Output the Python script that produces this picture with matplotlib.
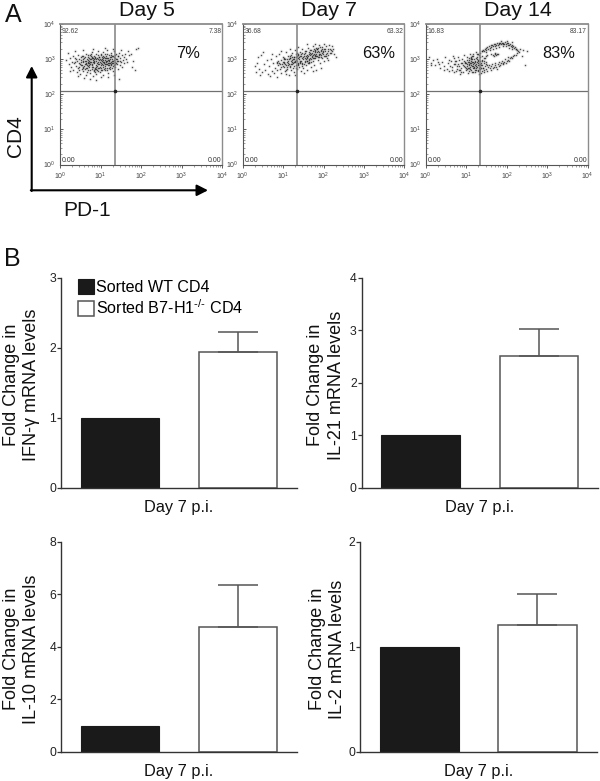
import matplotlib
matplotlib.use("Agg")
import matplotlib.pyplot as plt
import numpy as np
from matplotlib.ticker import LogLocator, NullFormatter

plt.rcParams["font.family"] = ["Liberation Sans", "DejaVu Sans"]
plt.rcParams["mathtext.default"] = "regular"

W, H = 600, 781

# flow panels, log10 PD-1 / log10 CD4
day_labels = ["Day 5", "Day 7", "Day 14"]
pct_labels = ["7%", "63%", "83%"]
upper_left = ["92.62", "36.68", "16.83"]
upper_right = ["7.38", "63.32", "83.17"]
gate_x = [1.35, 1.34, 1.33]
gate_y = 2.09

day5_points = [
    (0.16,2.97),(0.19,3.18),(0.22,2.86),(0.25,3.02),(0.27,2.78),(0.29,2.93),(0.31,3.10),(0.33,2.70),
    (0.35,2.88),(0.37,3.04),(0.39,2.81),(0.41,2.95),(0.42,2.64),(0.44,3.12),(0.45,2.75),(0.47,2.90),
    (0.48,3.01),(0.50,2.58),(0.51,2.84),(0.52,2.97),(0.54,2.71),(0.55,3.08),(0.56,2.91),(0.57,2.79),
    (0.58,2.66),(0.60,3.03),(0.61,2.87),(0.62,2.94),(0.63,3.16),(0.64,2.74),(0.65,2.55),(0.66,2.99),
    (0.67,2.83),(0.68,2.90),(0.69,3.06),(0.70,2.69),(0.71,2.96),(0.72,2.78),(0.73,3.12),(0.74,2.86),
    (0.75,2.61),(0.76,3.00),(0.77,2.92),(0.78,2.73),(0.79,3.19),(0.80,2.84),(0.81,2.52),(0.82,2.97),
    (0.83,2.66),(0.84,3.08),(0.85,2.89),(0.86,2.76),(0.87,3.02),(0.88,2.94),(0.89,2.58),(0.90,3.14),
    (0.91,2.81),(0.92,2.69),(0.93,2.99),(0.94,3.24),(0.95,2.87),(0.96,2.74),(0.97,3.05),(0.98,2.63),
    (0.99,2.92),(1.00,3.11),(1.01,2.83),(1.02,2.70),(1.03,3.01),(1.04,2.95),(1.05,3.20),(1.06,2.78),
    (1.07,2.55),(1.08,2.88),(1.09,3.07),(1.10,2.98),(1.11,2.68),(1.12,3.16),(1.13,2.85),(1.14,2.93),
    (1.15,2.75),(1.16,3.04),(1.17,3.25),(1.18,2.90),(1.19,2.61),(1.20,2.98),(1.21,3.12),(1.22,2.82),
    (1.23,2.71),(1.24,3.06),(1.25,2.93),(1.26,3.18),(1.27,2.87),(1.28,2.76),(1.29,3.01),(1.30,2.65),
    (1.31,2.95),(1.32,3.10),(1.33,2.84),(1.34,3.22),(1.35,2.92),(1.36,2.78),(1.37,3.04),(1.38,2.99),
    (1.39,3.14),(1.40,2.87),(1.42,2.72),(1.43,3.08),(1.44,2.95),(1.46,3.17),(1.47,2.83),(1.49,3.02),
    (1.50,2.91),(1.52,3.12),(1.53,2.79),(1.55,2.97),(1.57,3.06),(1.59,2.89),(1.61,3.15),(1.63,3.00),
    (1.66,2.93),(1.70,3.11),(1.75,3.15),(1.80,2.95),(1.85,2.68),(1.88,3.30),(1.92,3.31),(1.45,2.42),
    (0.55,2.82),(0.62,2.73),(0.70,2.92),(0.74,2.99),(0.78,2.85),(0.82,2.79),(0.85,2.96),(0.88,2.71),
    (0.92,2.88),(0.96,2.98),(1.00,2.76),(1.03,2.86),(1.07,2.97),(1.10,2.80),(1.13,3.04),(1.17,2.86),
    (1.20,2.90),(1.24,2.79),(1.28,2.95),(1.32,2.88),(0.48,2.77),(0.58,3.10),(0.66,2.62),(0.72,3.04),
    (0.80,3.07),(0.86,2.64),(0.94,2.66),(1.02,3.15),(1.08,2.73),(1.16,2.68),(1.26,3.05),(1.36,3.13),
    # second pass over the denser middle of the cloud
    (0.93,2.91),(0.58,2.95),(1.27,3.13),(0.71,2.84),(1.12,2.76),(0.84,3.01),(1.41,3.00),(0.67,2.75),
    (1.06,3.09),(0.49,2.86),(0.89,2.83),(1.33,2.97),(0.77,3.10),(1.19,3.02),(0.63,2.89),(1.04,2.68),
    (0.91,3.03),(1.48,2.94),(0.73,2.68),(1.15,3.15),(0.40,3.00),(0.97,2.86),(1.30,2.81),(0.83,2.93),
    (1.09,2.91),(0.56,3.00),(1.22,2.95),(0.79,2.77),(1.01,2.97),(0.68,3.13),(1.38,2.90),(0.87,2.72),
    (1.14,3.08),(0.46,2.69),(0.95,3.12),(1.25,2.84),(0.75,2.93),(1.05,2.84),(0.60,2.80),(1.18,2.98),
    (0.89,3.00),(1.34,3.06),(0.69,2.97),(1.11,3.04),(0.53,3.05),(0.98,2.79),(1.21,2.74),(0.81,2.91),
    (1.44,3.10),(0.65,2.85),(1.03,3.05),(0.76,3.15),(1.29,2.90),(0.90,2.77),(1.16,2.94),(0.38,2.91),
    (0.99,3.00),(0.72,2.88),(1.24,3.00),(0.84,2.70),(1.07,3.02),(0.61,3.07),(1.35,2.85),(0.93,2.75),
    (1.19,2.84),(0.78,3.02),(1.01,2.90),(0.51,2.92),(1.13,2.96),(0.86,3.06),(1.28,3.09),(0.70,2.80),
    (0.96,3.07),(1.40,2.96),(0.64,2.96),(1.10,2.86),(0.82,3.04),(1.23,2.90),(0.57,2.74),(1.05,2.91),
    # thin outer scatter
    (0.24,2.66),(0.44,2.52),(0.60,2.46),(0.74,2.44),(0.90,2.40),(1.02,2.48),(1.18,2.50),(1.33,2.56),
    (0.36,3.22),(0.58,3.27),(0.82,3.30),(1.10,3.31),(1.30,3.30),(1.50,3.26),(1.68,3.22),(1.78,2.78),
]

day7_points = [
    (0.30,2.80),(0.33,2.64),(0.36,2.90),(0.38,3.05),(0.40,2.72),(0.45,3.12),(0.48,2.62),(0.52,2.85),
    (0.56,2.70),(0.60,2.97),(0.62,2.58),(0.66,2.80),(0.70,3.01),(0.72,2.66),(0.75,2.88),(0.78,2.60),
    (0.80,2.76),(0.82,3.08),(0.84,2.93),(0.86,2.68),(0.88,2.84),(0.90,3.14),(0.92,2.73),(0.94,2.98),
    (0.96,2.61),(0.98,2.87),(1.00,3.05),(1.01,2.78),(1.03,2.92),(1.04,2.66),(1.06,3.20),(1.07,2.84),
    (1.09,2.99),(1.10,2.71),(1.12,3.10),(1.13,2.90),(1.14,2.55),(1.16,2.81),(1.17,3.02),(1.19,2.95),
    (1.20,2.68),(1.21,3.17),(1.23,2.86),(1.24,2.76),(1.26,3.07),(1.27,2.93),(1.28,2.62),(1.30,3.25),
    (1.31,2.83),(1.33,2.98),(1.34,2.72),(1.36,3.12),(1.37,2.89),(1.38,3.03),(1.40,2.78),(1.41,3.20),
    (1.42,2.94),(1.44,2.66),(1.45,3.08),(1.46,2.85),(1.48,3.28),(1.49,2.99),(1.50,2.75),(1.52,3.14),
    (1.53,2.91),(1.54,3.04),(1.56,2.82),(1.57,3.22),(1.58,2.96),(1.60,2.69),(1.61,3.10),(1.62,3.32),
    (1.64,2.88),(1.65,3.01),(1.66,3.18),(1.68,2.92),(1.69,2.78),(1.70,3.27),(1.72,3.06),(1.73,3.38),
    (1.74,2.95),(1.76,3.14),(1.77,2.84),(1.78,3.23),(1.80,3.02),(1.81,3.33),(1.82,2.70),(1.84,3.10),
    (1.85,3.28),(1.86,2.98),(1.88,3.19),(1.89,3.40),(1.90,3.06),(1.92,2.90),(1.93,3.25),(1.94,3.13),
    (1.96,3.35),(1.97,3.02),(1.98,3.20),(2.00,3.42),(2.01,3.09),(2.02,2.96),(2.04,3.29),(2.05,3.16),
    (2.07,3.38),(2.08,3.04),(2.10,3.24),(2.12,3.12),(2.14,3.40),(2.16,3.30),(2.18,3.18),(2.20,3.22),
    (2.22,3.36),(2.24,3.30),(2.26,3.14),(2.30,3.05),(0.90,2.90),(1.00,2.93),(1.05,3.00),(1.10,2.92),
    (1.15,2.87),(1.18,3.09),(1.22,2.97),(1.25,3.00),(1.29,2.91),(1.32,3.06),(1.35,2.96),(1.39,3.00),
    (1.43,2.90),(1.47,3.04),(1.51,3.10),(1.55,2.95),(1.59,3.07),(1.63,2.98),(1.67,3.11),(1.71,3.17),
    (1.75,3.03),(1.79,3.12),(1.83,3.20),(1.87,3.06),(1.91,3.16),(1.95,3.24),(1.99,3.14),(2.03,3.22),
    (2.06,3.08),(2.11,3.28),(2.15,3.18),(2.19,3.27),
    # second pass over the denser middle of the cloud
    (1.27,3.05),(1.74,3.22),(0.99,2.80),(1.52,2.86),(1.86,3.22),(1.12,2.95),(1.63,3.14),(1.38,2.82),
    (1.96,3.18),(1.07,2.69),(1.70,3.00),(1.44,3.16),(0.93,2.85),(1.81,3.08),(1.30,2.96),(1.57,2.99),
    (2.02,3.30),(1.18,2.78),(1.66,3.25),(1.41,2.92),(1.89,3.12),(1.02,2.99),(1.55,3.18),(1.24,2.88),
    (1.77,3.30),(1.35,3.08),(1.93,3.07),(0.88,2.95),(1.60,3.03),(1.16,3.04),(1.48,2.80),(1.84,3.28),
    (1.33,2.74),(1.71,3.08),(2.08,3.18),(1.05,2.85),(1.43,3.10),(1.64,2.92),(1.21,2.92),(1.79,3.20),
    (1.50,3.06),(0.96,2.79),(1.97,3.28),(1.37,3.15),(1.69,3.16),(1.14,2.99),(1.58,3.12),(1.26,2.80),
    (1.87,3.32),(1.45,2.96),(1.76,3.04),(1.03,3.04),(1.61,2.88),(1.31,3.14),(2.04,3.10),(1.19,2.86),
    (1.54,3.22),(1.82,3.15),(1.40,3.06),(0.85,2.88),(1.67,3.03),(1.09,2.78),(1.92,3.34),(1.47,3.18),
    (1.73,3.12),(1.28,3.01),(1.99,3.24),(1.11,2.84),(1.59,2.94),(1.36,2.87),(1.80,3.26),(1.23,3.06),
    (1.65,3.20),(1.46,2.90),(1.90,3.14),(1.34,3.18),(1.56,3.08),(1.01,2.88),(1.78,3.10),(1.20,3.12),
    # thin outer scatter
    (0.42,2.55),(0.68,2.52),(0.86,2.50),(1.08,2.58),(1.30,2.56),(1.52,2.60),(1.74,2.66),(1.94,2.76),
    (0.50,3.20),(0.72,3.16),(0.95,3.24),(1.16,3.30),(1.38,3.34),(1.58,3.42),(1.80,3.43),(2.12,2.98),
]

day14_points = [
    # low left tail
    (0.08,3.05),(0.12,2.90),(0.18,2.98),(0.22,2.82),(0.27,3.00),(0.32,2.86),(0.36,2.75),(0.40,2.92),
    (0.44,2.80),(0.48,3.06),(0.52,2.72),(0.55,2.88),(0.58,2.66),(0.62,2.95),(0.65,2.78),(0.68,3.10),
    (0.70,2.62),(0.73,2.85),(0.76,2.94),(0.78,2.72),(0.80,3.05),(0.82,2.80),(0.84,2.58),(0.86,2.90),
    (0.14,2.84),(0.30,2.92),(0.46,2.68),(0.57,2.98),(0.66,2.70),(0.72,2.94),(0.75,2.66),(0.79,2.87),
    (0.83,2.98),(0.85,2.70),(0.87,2.62),(0.61,2.80),(0.69,2.86),(0.77,2.80),(0.81,2.68),(0.71,3.02),
    # dense left blob
    (0.88,2.74),(0.90,3.00),(0.92,2.84),(0.93,2.64),(0.95,3.12),(0.97,2.78),(0.98,2.93),(1.00,2.70),
    (1.01,3.05),(1.03,2.86),(1.04,2.60),(1.06,2.97),(1.07,2.76),(1.09,3.16),(1.10,2.88),(1.11,2.68),
    (1.13,3.03),(1.14,2.80),(1.15,2.92),(1.17,2.62),(1.18,3.10),(1.19,2.74),(1.21,2.96),(1.22,2.84),
    (1.23,3.20),(1.25,2.68),(1.26,3.00),(1.27,2.78),(1.29,3.14),(1.30,2.88),(1.31,2.58),(1.33,3.05),
    (1.34,2.72),(1.35,3.18),(1.37,2.82),(1.38,2.65),(1.39,3.10),(1.41,2.76),(0.95,2.80),(1.00,2.88),
    (1.05,2.76),(1.08,2.92),(1.12,2.82),(1.16,2.74),(1.20,2.90),(1.24,2.80),(1.28,2.70),(1.32,2.82),
    (1.36,2.74),(0.89,2.88),(0.94,2.95),(0.99,2.76),(1.02,2.97),(1.06,2.86),(1.10,2.79),(1.13,2.96),
    (1.16,2.85),(1.19,2.99),(1.23,2.75),(1.26,2.92),(1.29,2.84),(1.33,2.94),(1.35,2.78),(1.38,2.98),
    (1.03,2.72),(1.08,3.03),(1.15,3.08),(1.21,2.70),(1.27,3.07),(1.31,2.76),(1.12,2.90),(1.18,2.80),
    (0.97,2.90),(1.05,2.93),(1.09,2.72),(1.14,2.99),(1.22,2.93),(1.25,3.04),(1.30,2.97),(1.36,2.90),
    (1.01,2.80),(1.07,2.83),(1.11,3.00),(1.17,2.93),(1.20,2.78),(1.24,2.87),(1.28,2.96),(1.34,2.86),
    (1.40,2.84),(1.43,3.02),(1.45,2.88),(1.48,3.08),(1.40,2.94),(1.32,3.12),(1.26,3.14),(1.18,3.16),
    (1.06,2.66),(1.14,2.64),(1.22,2.62),(1.30,2.66),(1.37,2.60),(1.44,2.62),(1.52,2.66),(1.12,3.06),
    # upper arc of the ring
    (1.38,3.22),(1.40,3.24),(1.42,3.27),(1.44,3.22),(1.46,3.29),(1.48,3.31),(1.50,3.27),(1.52,3.34),
    (1.54,3.30),(1.56,3.36),(1.58,3.33),(1.60,3.39),(1.62,3.35),(1.64,3.41),(1.66,3.37),(1.68,3.42),
    (1.70,3.38),(1.72,3.44),(1.74,3.40),(1.76,3.45),(1.78,3.41),(1.80,3.46),(1.82,3.42),(1.84,3.47),
    (1.86,3.42),(1.88,3.46),(1.90,3.43),(1.92,3.47),(1.94,3.42),(1.96,3.48),(1.98,3.43),(2.00,3.47),
    (2.02,3.41),(2.04,3.46),(2.06,3.40),(2.08,3.44),(2.10,3.38),(2.12,3.41),(2.14,3.35),(2.16,3.38),
    (2.18,3.32),(2.20,3.35),(2.22,3.28),(2.24,3.30),(2.26,3.25),(2.28,3.24),(2.30,3.20),(2.34,3.28),
    (2.40,3.27),(2.49,3.24),(2.45,2.83),(2.38,3.08),(1.50,3.20),(1.58,3.25),(1.66,3.30),(1.74,3.33),
    (1.82,3.35),(1.90,3.36),(1.98,3.37),(2.06,3.33),(2.14,3.28),(1.86,3.52),(2.00,3.53),(2.12,3.48),
    # lower arc of the ring
    (1.42,2.74),(1.46,2.80),(1.50,2.72),(1.54,2.78),(1.58,2.74),(1.62,2.80),(1.66,2.75),(1.70,2.82),
    (1.74,2.78),(1.78,2.85),(1.82,2.81),(1.86,2.88),(1.90,2.85),(1.94,2.93),(1.98,2.90),(2.02,2.98),
    (2.06,2.96),(2.10,3.05),(2.14,3.03),(2.18,3.12),(2.22,3.12),(2.26,3.18),(1.44,2.68),(1.52,2.82),
    (1.60,2.70),(1.68,2.78),(1.76,2.73),(1.84,2.82),(1.92,2.88),(2.00,2.94),(2.08,3.02),(2.16,3.08),
    (1.48,2.86),(1.56,2.84),(1.64,2.86),(1.72,2.88),(1.80,2.92),(1.88,2.96),(1.96,3.00),(2.04,3.06),
    # small cluster inside the ring
    (1.62,3.16),(1.66,3.12),(1.70,3.15),(1.74,3.12),(1.78,3.14),(1.68,3.10),(1.72,3.18),(1.76,3.16),
    (1.47,3.04),(1.52,3.12),(1.44,2.96),(1.50,2.92),
]
flow_points = [day5_points, day7_points, day14_points]

# bar panels
groups = ["Sorted WT CD4", "Sorted B7-H1$^{\u2010/\u2010}$ CD4"]
bar_genes = ["IFN-γ", "IL-21", "IL-10", "IL-2"]
wt_values = [1.0, 1.0, 1.0, 1.0]
ko_values = [1.94, 2.52, 4.75, 1.21]
ko_upper = [2.22, 3.02, 6.37, 1.50]
y_tops = [3, 4, 8, 2]
y_ticks = [[0, 1, 2, 3], [0, 1, 2, 3, 4], [0, 2, 4, 6, 8], [0, 1, 2]]


def px_axes(fig, left, top, right, bottom):
    return fig.add_axes([left / W, 1 - bottom / H, (right - left) / W, (bottom - top) / H])


fig = plt.figure(figsize=(W / 100, H / 100), dpi=100, facecolor="white")

# A: dot plots
flow_boxes = [(60, 222), (242.7, 404.3), (425.7, 587.7)]
for i, (x0, x1) in enumerate(flow_boxes):
    ax = px_axes(fig, x0, 24, x1, 164.5)
    ax.set_xscale("log")
    ax.set_yscale("log")
    ax.set_xlim(1, 1e4)
    ax.set_ylim(1, 1e4)
    pts = 10 ** np.array(flow_points[i])
    ax.scatter(pts[:, 0], pts[:, 1], s=7, c="#777777", alpha=0.13, linewidths=0)
    ax.scatter(pts[:, 0], pts[:, 1], s=1.1, c="#1a1a1a", alpha=0.75, linewidths=0)
    ax.axvline(10 ** gate_x[i], color="#808080", lw=1.1)
    ax.axhline(10 ** gate_y, color="#707070", lw=0.9)
    ax.plot([10 ** gate_x[i]], [10 ** gate_y], "o", ms=1.6, color="#222222")
    for side, col, lw in [("top", "#8c8c8c", 1.3), ("right", "#8c8c8c", 1.0),
                          ("left", "#555555", 0.8), ("bottom", "#555555", 0.8)]:
        ax.spines[side].set_color(col)
        ax.spines[side].set_linewidth(lw)
    for axis in [ax.xaxis, ax.yaxis]:
        axis.set_major_locator(LogLocator(base=10, numticks=6))
        axis.set_minor_locator(LogLocator(base=10, subs=range(2, 10), numticks=6))
        axis.set_minor_formatter(NullFormatter())
    ax.tick_params(axis="x", which="major", direction="out", length=2.2, width=0.6,
                   labelsize=5, pad=2.5, colors="#444444")
    ax.tick_params(axis="x", which="minor", direction="out", length=1.2, width=0.4, color="#555555")
    ax.tick_params(axis="y", which="major", direction="in", length=2.2, width=0.6,
                   labelsize=5, pad=3, colors="#444444")
    ax.tick_params(axis="y", which="minor", direction="in", length=1.2, width=0.4, color="#555555")
    ax.text(0.012, 0.97, upper_left[i], transform=ax.transAxes, fontsize=4.9, va="top", color="#444444")
    ax.text(0.995, 0.97, upper_right[i], transform=ax.transAxes, fontsize=4.9, va="top", ha="right", color="#444444")
    ax.text(0.012, 0.0, "0.00", transform=ax.transAxes, fontsize=5, va="bottom", color="#333333")
    ax.text(0.995, 0.0, "0.00", transform=ax.transAxes, fontsize=5, va="bottom", ha="right", color="#333333")

# B: bar charts
bar_boxes = [(61, 277.7, 297, 488), (361.7, 277.7, 598, 488),
             (61, 541.7, 297, 752), (360, 541.7, 596.5, 752)]
label_right = [40.5, 345, 40.5, 346.5]
for i, (x0, y0, x1, y1) in enumerate(bar_boxes):
    ax = px_axes(fig, x0, y0, x1, y1)
    ax.bar([0], [wt_values[i]], width=0.667, color="#1a1a1a", edgecolor="#1a1a1a",
           linewidth=0.8, label=groups[0])
    err = ko_upper[i] - ko_values[i]
    ax.bar([1], [ko_values[i]], width=0.667, color="white", edgecolor="#555555", linewidth=1.1,
           yerr=[[0], [err]], error_kw=dict(ecolor="#555555", elinewidth=1.1, capsize=14.2, capthick=1.1),
           label=groups[1])
    ax.set_xlim(-0.5, 1.5)
    ax.set_ylim(0, y_tops[i])
    ax.set_xticks([])
    ax.set_yticks(y_ticks[i])
    ax.tick_params(axis="y", length=3, width=0.9, pad=0.5, labelsize=8.8, color="#333333", labelcolor="#222222")
    ax.spines["top"].set_visible(False)
    ax.spines["right"].set_visible(False)
    for side in ["left", "bottom"]:
        ax.spines[side].set_color("#333333")
        ax.spines[side].set_linewidth(1.0)
    ax.set_xlabel("Day 7 p.i.", fontsize=11.8, labelpad=8.5, color="#111111")
    ax.set_ylabel("Fold Change in\n" + bar_genes[i] + " mRNA levels", fontsize=13,
                  linespacing=1.3, color="#111111")
    ax.yaxis.set_label_coords((label_right[i] - x0) / (x1 - x0), 0.49)
    if i == 0:
        ax.legend(loc="upper left", bbox_to_anchor=(0.072, 0.995), frameon=False, fontsize=11.6,
                  handlelength=1.0, handleheight=1.05, handletextpad=0.12, labelspacing=0.25,
                  borderpad=0, borderaxespad=0)

# labels and arrows laid over the whole figure, in pixel coordinates
over = fig.add_axes([0, 0, 1, 1], facecolor="none")
over.set_xlim(0, W)
over.set_ylim(H, 0)
over.axis("off")
for txt, x, y in [("A", 13, 15), ("B", 12, 259)]:
    over.text(x, y, txt, fontsize=18, ha="center", va="center", color="#111111")
for txt, x in zip(day_labels, [147, 329, 518]):
    over.text(x, 10, txt, fontsize=15.4, ha="center", va="center", color="#111111")
for txt, x in zip(pct_labels, [188, 379, 559]):
    over.text(x, 54, txt, fontsize=11.8, ha="center", va="center", color="#111111")
over.text(15, 136, "CD4", fontsize=15, rotation=90, ha="center", va="center", color="#111111")
over.text(87.5, 210, "PD-1", fontsize=15, ha="center", va="center", color="#111111")
arrow = dict(arrowstyle="-|>,head_length=0.55,head_width=0.28", color="black", lw=1.5,
             shrinkA=0, shrinkB=0, mutation_scale=12)
over.annotate("", xy=(31.7, 66), xytext=(31.7, 191), arrowprops=arrow)
over.annotate("", xy=(208, 190.3), xytext=(30.8, 190.3), arrowprops=arrow)

fig.savefig("out.png", dpi=100)
